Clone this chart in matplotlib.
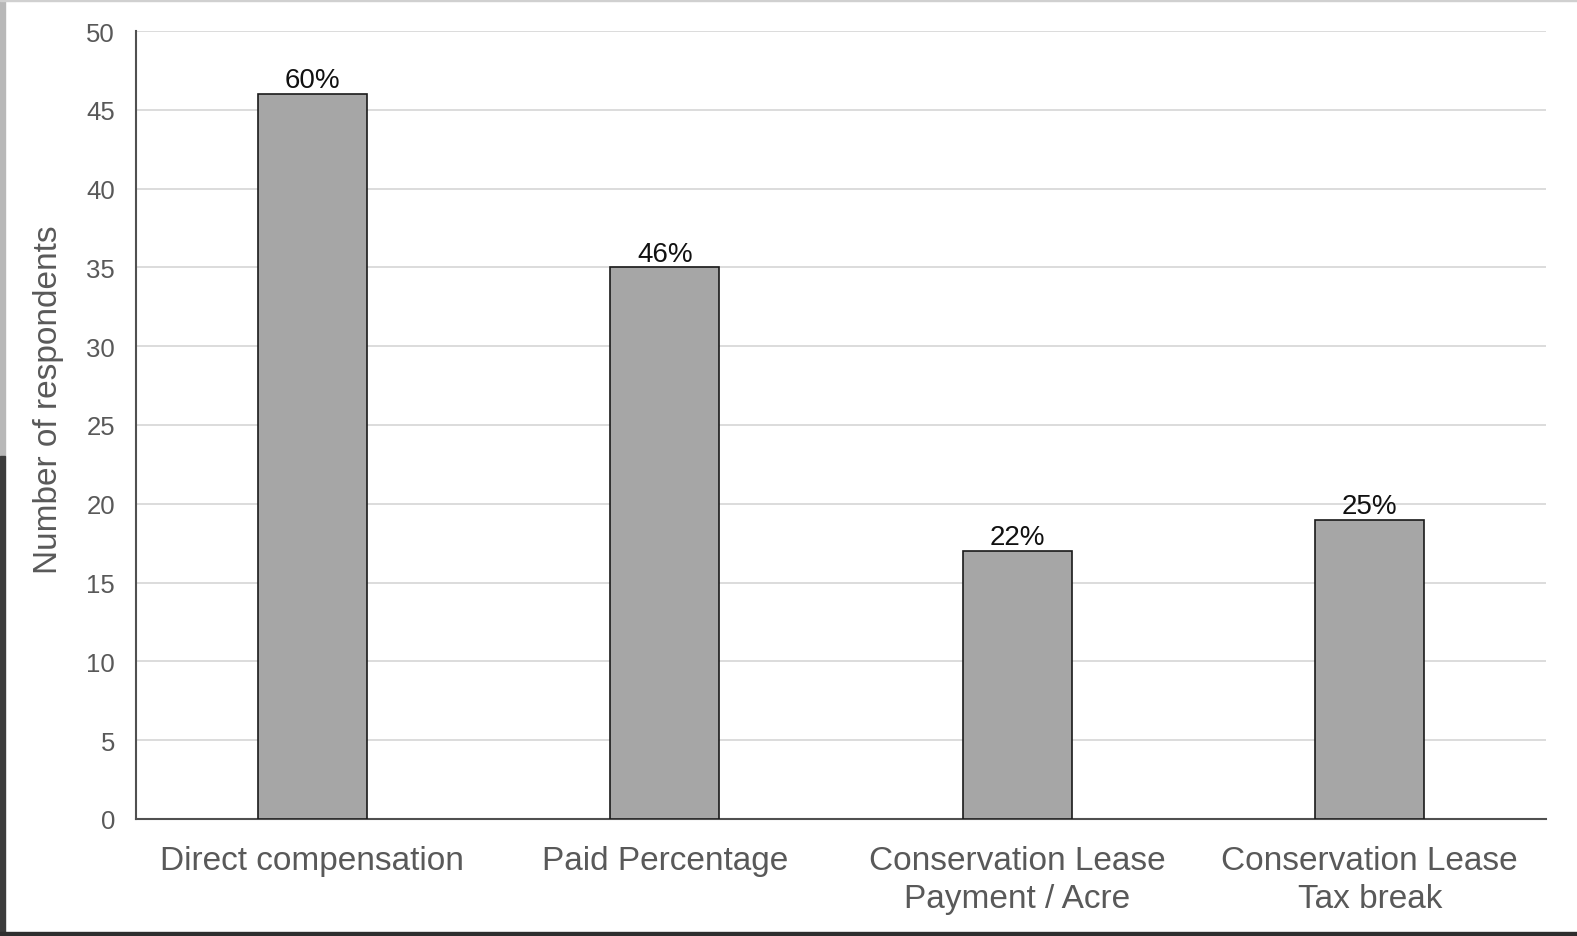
import matplotlib
matplotlib.use("Agg")
import matplotlib.pyplot as plt
from matplotlib.patches import Rectangle

plt.rcParams['font.family'] = ['Liberation Sans', 'DejaVu Sans']

categories = ["Direct compensation", "Paid Percentage",
              "Conservation Lease\nPayment / Acre", "Conservation Lease\nTax break"]
respondents = [46, 35, 17, 19]
share_labels = ["60%", "46%", "22%", "25%"]
y_ticks = [0, 5, 10, 15, 20, 25, 30, 35, 40, 45, 50]

W, H = 1577, 937
fig = plt.figure(figsize=(W / 100, H / 100), dpi=100)
fig.patch.set_facecolor("white")

ax = fig.add_axes([136 / W, 117 / H, (1546 - 136) / W, (820 - 32) / H])
x = range(len(categories))
bars = ax.bar(x, respondents, width=0.31, color="#a6a6a6",
              edgecolor="#1a1a1a", linewidth=1.2, zorder=3)

for rect, lab in zip(bars, share_labels):
    ax.text(rect.get_x() + rect.get_width() / 2, rect.get_height() + 0.05, lab,
            ha="center", va="bottom", fontsize=20, color="#111111", zorder=4)

ax.set_xlim(-0.5, len(categories) - 0.5)
ax.set_ylim(0, 50)
ax.set_yticks(y_ticks)
ax.set_xticks(list(x))
ax.set_xticklabels(categories, fontsize=24, color="#595959", linespacing=1.28)
ax.tick_params(axis="y", labelsize=18.5, labelcolor="#595959", length=0, pad=15)
ax.tick_params(axis="x", length=0, pad=19)
ax.yaxis.grid(True, color="#d9d9d9", linewidth=1.3, zorder=0)
ax.set_axisbelow(True)

for side in ("top", "right"):
    ax.spines[side].set_visible(False)
for side in ("left", "bottom"):
    ax.spines[side].set_color("#505050")
    ax.spines[side].set_linewidth(1.5)

ax.set_ylabel("Number of respondents", fontsize=24, color="#595959")
ax.yaxis.set_label_coords(-0.051, 0.533)

# Frame strips around the slide
fig.patches.append(Rectangle((0, 480 / H), 5 / W, 1 - 480 / H, transform=fig.transFigure,
                             color="#b8b8b8", zorder=10))
fig.patches.append(Rectangle((0, 0), 5 / W, 480 / H, transform=fig.transFigure,
                             color="#3c3c3c", zorder=10))
fig.patches.append(Rectangle((0, 0), 1, 4 / H, transform=fig.transFigure,
                             color="#2e2e2e", zorder=10))
fig.patches.append(Rectangle((0, 1 - 2 / H), 1, 2 / H, transform=fig.transFigure,
                             color="#d0d0d0", zorder=10))

fig.savefig("out.png", dpi=100)
